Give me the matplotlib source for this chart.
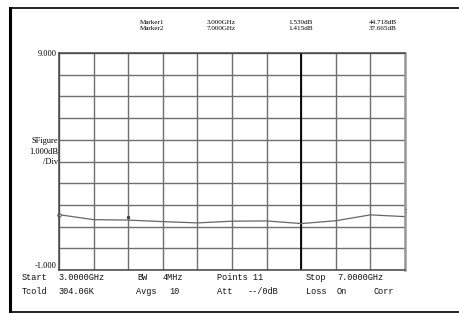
import matplotlib.pyplot as plt
from matplotlib.lines import Line2D
import numpy as np

# noise figure trace, 11 points 3-7 GHz
freq = np.linspace(3.0, 7.0, 11)
nf = [1.55, 1.32, 1.30, 1.23, 1.17, 1.25, 1.26, 1.14, 1.27, 1.54, 1.46]

marker_rows = [
    ['Marker1', '3.000GHz', '1.530dB', '44.718dB'],
    ['Marker2', '7.000GHz', '1.415dB', '37.665dB'],
]
info_row1 = [('Start', 22), ('3.0000GHz', 59), ('BW', 137), ('4MHz', 163),
             ('Points 11', 217), ('Stop', 306), ('7.0000GHz', 337)]
info_row2 = [('Tcold', 22), ('304.06K', 59), ('Avgs', 136), ('10', 169),
             ('Att', 217), ('--/0dB', 248), ('Loss', 306), ('On', 337), ('Corr', 374)]

W, H = 459, 313
fig = plt.figure(figsize=(W / 100, H / 100), dpi=100)
serif = {'family': 'Liberation Serif', 'color': 'black'}
mono = {'family': 'Liberation Mono', 'size': 6.2, 'color': '#111111'}

def px(x, y):
    return x / W, 1 - y / H

# outer frame
fig.add_artist(Line2D([10 / W, 10 / W], [1 - 8 / H, 1 - 311.5 / H], color='black', lw=2.2))
fig.add_artist(Line2D([10 / W, 1.0], [1 - 8 / H, 1 - 8 / H], color='black', lw=1.2))
fig.add_artist(Line2D([10 / W, 1.0], [1 - 311.5 / H, 1 - 311.5 / H], color='black', lw=1.2))

left, right, top, bottom = 59, 405, 53, 270
ax = fig.add_axes([left / W, 1 - bottom / H, (right - left) / W, (bottom - top) / H])
ax.set_xlim(3, 7)
ax.set_ylim(-1, 9)
ax.set_xticks(freq)
ax.set_yticks(np.arange(-1, 10))
ax.set_xticklabels([])
ax.set_yticklabels([])
ax.tick_params(length=0)
ax.grid(True, color='#6e6e6e', lw=1.0)
ax.axvline(5.8, color='black', lw=1.3)
for s in ax.spines.values():
    s.set_color('#444444')
    s.set_linewidth(1.1)
ax.spines['right'].set_color('#999999')
ax.spines['right'].set_linewidth(1.8)

ax.plot(freq, nf, color='#666666', lw=0.9, clip_on=False)
ax.plot([freq[0]], [nf[0]], marker='o', ms=2.5, mfc='white', mec='#444444', mew=0.6, clip_on=False)
ax.plot([3.8], [1.46], marker='s', ms=1.3, color='#444444', clip_on=False)
ax.text(7.0, nf[-1] + 0.1, ':', fontsize=5, color='#333333', ha='center', va='bottom')

# header marker table
for i, row in enumerate(marker_rows):
    y = 22.0 + i * 6.8
    fig.text(*px(140, y), row[0], ha='left', va='center', size=5.1, **serif)
    fig.text(*px(207, y), row[1], ha='left', va='center', size=5.1, **serif)
    fig.text(*px(313, y), row[2], ha='right', va='center', size=5.1, **serif)
    fig.text(*px(397, y), row[3], ha='right', va='center', size=5.1, **serif)

# y-axis labels
fig.text(*px(57, 54), '9.000', ha='right', va='center', size=6, **serif)
fig.text(*px(57, 266), '-1.000', ha='right', va='center', size=6, **serif)
fig.text(*px(58, 140.7), 'SFigure', ha='right', va='center', size=6, **serif)
fig.text(*px(58, 151.5), '1.000dB', ha='right', va='center', size=6, **serif)
fig.text(*px(58, 162), '/Div', ha='right', va='center', size=6, **serif)

# bottom info rows
for txt, x in info_row1:
    fig.text(*px(x, 277), txt, ha='left', va='center', **mono)
for txt, x in info_row2:
    fig.text(*px(x, 291), txt, ha='left', va='center', **mono)

fig.savefig('out.png', dpi=100)
